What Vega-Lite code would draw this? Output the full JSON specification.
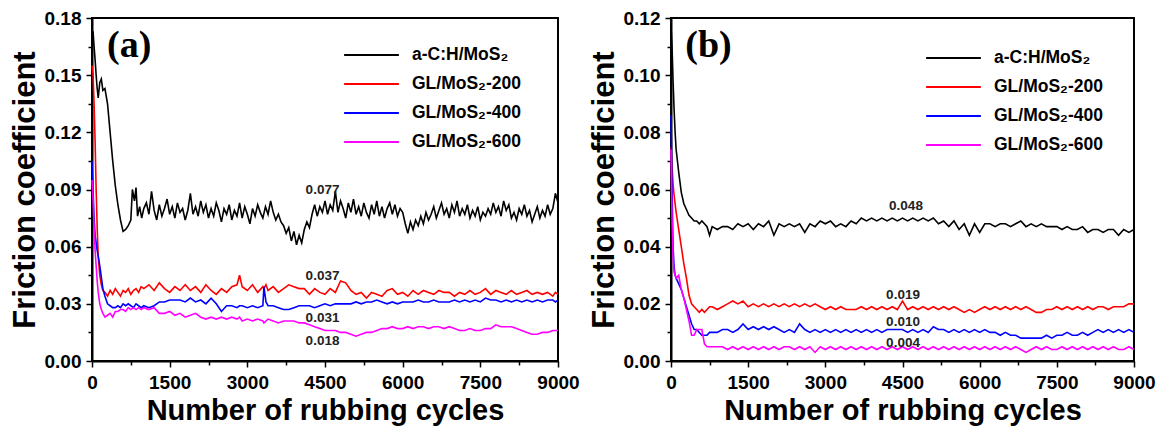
{
  "$schema": "https://vega.github.io/schema/vega-lite/v6.json",
  "padding": {"left": 8, "top": 8, "right": 8, "bottom": 4},
  "spacing": 6,
  "background": "white",
  "config": {
    "view": {"stroke": "black", "strokeWidth": 2},
    "axis": {
      "labelFont": "Liberation Sans", "labelFontWeight": "bold", "labelFontSize": 19, "labelColor": "black",
      "titleFont": "Liberation Sans", "titleFontWeight": "bold", "titleColor": "black",
      "grid": false, "domainColor": "black", "domainWidth": 2, "tickColor": "black", "tickWidth": 1.5,
      "labelOverlap": false, "labelFlush": false
    },
    "axisX": {"titleFontSize": 29, "labelPadding": 6, "titlePadding": 4},
    "axisY": {"titleFontSize": 31, "labelPadding": 5, "titlePadding": 3},
    "legend": {
      "symbolType": "stroke", "symbolSize": 3000, "symbolStrokeWidth": 2, "clipHeight": 16,
      "labelFont": "Liberation Sans", "labelFontWeight": "bold", "labelFontSize": 17.5, "labelColor": "black",
      "labelOffset": 12, "rowPadding": 11, "padding": 0, "title": null
    }
  },
  "datasets": {
    "a1": [
      {"x":0,"y":0.168},{"x":20,"y":0.173},{"x":40,"y":0.165},{"x":60,"y":0.158},{"x":80,"y":0.150},
      {"x":100,"y":0.143},{"x":120,"y":0.138},{"x":150,"y":0.146},{"x":180,"y":0.148},{"x":210,"y":0.142},
      {"x":250,"y":0.143},{"x":300,"y":0.135},{"x":350,"y":0.120},{"x":400,"y":0.105},{"x":450,"y":0.092},
      {"x":500,"y":0.082},{"x":550,"y":0.074},{"x":600,"y":0.068},{"x":650,"y":0.069},{"x":700,"y":0.071},
      {"x":750,"y":0.074},{"x":780,"y":0.090},{"x":820,"y":0.084},{"x":850,"y":0.091},{"x":880,"y":0.076},
      {"x":920,"y":0.081},{"x":960,"y":0.075},{"x":1000,"y":0.080},{"x":1050,"y":0.083},{"x":1100,"y":0.077},
      {"x":1150,"y":0.089},{"x":1200,"y":0.079},{"x":1250,"y":0.074},{"x":1300,"y":0.082},{"x":1350,"y":0.076},
      {"x":1400,"y":0.080},{"x":1450,"y":0.085},{"x":1500,"y":0.077},{"x":1550,"y":0.081},{"x":1600,"y":0.075},
      {"x":1650,"y":0.083},{"x":1700,"y":0.078},{"x":1750,"y":0.080},{"x":1800,"y":0.074},{"x":1850,"y":0.079},
      {"x":1900,"y":0.088},{"x":1950,"y":0.077},{"x":2000,"y":0.081},{"x":2050,"y":0.076},{"x":2100,"y":0.084},
      {"x":2150,"y":0.078},{"x":2200,"y":0.082},{"x":2250,"y":0.075},{"x":2300,"y":0.080},{"x":2350,"y":0.076},
      {"x":2400,"y":0.083},{"x":2450,"y":0.079},{"x":2500,"y":0.073},{"x":2550,"y":0.080},{"x":2600,"y":0.077},
      {"x":2650,"y":0.082},{"x":2700,"y":0.074},{"x":2750,"y":0.079},{"x":2800,"y":0.076},{"x":2850,"y":0.083},
      {"x":2900,"y":0.075},{"x":2950,"y":0.081},{"x":3000,"y":0.077},{"x":3050,"y":0.072},{"x":3100,"y":0.080},
      {"x":3150,"y":0.076},{"x":3200,"y":0.082},{"x":3250,"y":0.078},{"x":3300,"y":0.075},{"x":3350,"y":0.081},
      {"x":3400,"y":0.077},{"x":3450,"y":0.084},{"x":3500,"y":0.078},{"x":3550,"y":0.074},{"x":3600,"y":0.077},
      {"x":3650,"y":0.073},{"x":3700,"y":0.071},{"x":3750,"y":0.067},{"x":3800,"y":0.070},{"x":3850,"y":0.063},
      {"x":3900,"y":0.068},{"x":3950,"y":0.061},{"x":4000,"y":0.066},{"x":4050,"y":0.062},{"x":4100,"y":0.069},
      {"x":4150,"y":0.073},{"x":4200,"y":0.070},{"x":4250,"y":0.077},{"x":4300,"y":0.082},{"x":4350,"y":0.076},
      {"x":4400,"y":0.081},{"x":4450,"y":0.078},{"x":4500,"y":0.084},{"x":4550,"y":0.077},{"x":4600,"y":0.082},
      {"x":4650,"y":0.079},{"x":4700,"y":0.089},{"x":4750,"y":0.078},{"x":4800,"y":0.084},{"x":4850,"y":0.080},
      {"x":4900,"y":0.075},{"x":4950,"y":0.083},{"x":5000,"y":0.078},{"x":5050,"y":0.085},{"x":5100,"y":0.077},
      {"x":5150,"y":0.081},{"x":5200,"y":0.076},{"x":5250,"y":0.083},{"x":5300,"y":0.078},{"x":5350,"y":0.075},
      {"x":5400,"y":0.082},{"x":5450,"y":0.077},{"x":5500,"y":0.084},{"x":5550,"y":0.076},{"x":5600,"y":0.081},
      {"x":5650,"y":0.075},{"x":5700,"y":0.080},{"x":5750,"y":0.083},{"x":5800,"y":0.077},{"x":5850,"y":0.082},
      {"x":5900,"y":0.076},{"x":5950,"y":0.080},{"x":6000,"y":0.078},{"x":6050,"y":0.072},{"x":6100,"y":0.067},
      {"x":6150,"y":0.073},{"x":6200,"y":0.069},{"x":6250,"y":0.074},{"x":6300,"y":0.071},{"x":6350,"y":0.076},
      {"x":6400,"y":0.072},{"x":6450,"y":0.078},{"x":6500,"y":0.074},{"x":6550,"y":0.077},{"x":6600,"y":0.081},
      {"x":6650,"y":0.075},{"x":6700,"y":0.079},{"x":6750,"y":0.083},{"x":6800,"y":0.077},{"x":6850,"y":0.080},
      {"x":6900,"y":0.075},{"x":6950,"y":0.082},{"x":7000,"y":0.078},{"x":7050,"y":0.084},{"x":7100,"y":0.076},
      {"x":7150,"y":0.080},{"x":7200,"y":0.077},{"x":7250,"y":0.082},{"x":7300,"y":0.075},{"x":7350,"y":0.079},
      {"x":7400,"y":0.076},{"x":7450,"y":0.081},{"x":7500,"y":0.074},{"x":7550,"y":0.078},{"x":7600,"y":0.076},
      {"x":7650,"y":0.080},{"x":7700,"y":0.077},{"x":7750,"y":0.083},{"x":7800,"y":0.078},{"x":7850,"y":0.081},
      {"x":7900,"y":0.076},{"x":7950,"y":0.084},{"x":8000,"y":0.079},{"x":8050,"y":0.082},{"x":8100,"y":0.075},
      {"x":8150,"y":0.078},{"x":8200,"y":0.074},{"x":8250,"y":0.080},{"x":8300,"y":0.077},{"x":8350,"y":0.082},
      {"x":8400,"y":0.076},{"x":8450,"y":0.079},{"x":8500,"y":0.073},{"x":8550,"y":0.077},{"x":8600,"y":0.081},
      {"x":8650,"y":0.075},{"x":8700,"y":0.079},{"x":8750,"y":0.076},{"x":8800,"y":0.082},{"x":8850,"y":0.077},
      {"x":8900,"y":0.080},{"x":8950,"y":0.088},{"x":9000,"y":0.083}
    ],
    "a": [
      {"x":0,"s2":0.155,"s3":0.105,"s4":0.095},
      {"x":20,"s2":0.150,"s3":0.090,"s4":0.085},
      {"x":40,"s2":0.135,"s3":0.075,"s4":0.070},
      {"x":60,"s2":0.115,"s3":0.066,"s4":0.058},
      {"x":80,"s2":0.090,"s3":0.062,"s4":0.050},
      {"x":100,"s2":0.070,"s3":0.058,"s4":0.042},
      {"x":120,"s2":0.055,"s3":0.055,"s4":0.036},
      {"x":150,"s2":0.045,"s3":0.050,"s4":0.030},
      {"x":180,"s2":0.040,"s3":0.044,"s4":0.027},
      {"x":210,"s2":0.037,"s3":0.038,"s4":0.025},
      {"x":250,"s2":0.036,"s3":0.034,"s4":0.023},
      {"x":300,"s2":0.034,"s3":0.030,"s4":0.024},
      {"x":350,"s2":0.037,"s3":0.029,"s4":0.025},
      {"x":400,"s2":0.035,"s3":0.028,"s4":0.023},
      {"x":450,"s2":0.038,"s3":0.028,"s4":0.026},
      {"x":500,"s2":0.036,"s3":0.029,"s4":0.026},
      {"x":550,"s2":0.034,"s3":0.028,"s4":0.027},
      {"x":600,"s2":0.037,"s3":0.030,"s4":0.027},
      {"x":650,"s2":0.036,"s3":0.029,"s4":0.026},
      {"x":700,"s2":0.038,"s3":0.030,"s4":0.028},
      {"x":750,"s2":0.035,"s3":0.029,"s4":0.027},
      {"x":800,"s2":0.037,"s3":0.028,"s4":0.028},
      {"x":850,"s2":0.038,"s3":0.030,"s4":0.027},
      {"x":900,"s2":0.036,"s3":0.029,"s4":0.028},
      {"x":950,"s2":0.039,"s3":0.028,"s4":0.027},
      {"x":1000,"s2":0.038,"s3":0.029,"s4":0.028},
      {"x":1100,"s2":0.040,"s3":0.028,"s4":0.027},
      {"x":1200,"s2":0.037,"s3":0.029,"s4":0.028},
      {"x":1300,"s2":0.041,"s3":0.031,"s4":0.025},
      {"x":1400,"s2":0.038,"s3":0.031,"s4":0.025},
      {"x":1500,"s2":0.036,"s3":0.032,"s4":0.026},
      {"x":1600,"s2":0.039,"s3":0.032,"s4":0.024},
      {"x":1700,"s2":0.037,"s3":0.032,"s4":0.025},
      {"x":1800,"s2":0.040,"s3":0.031,"s4":0.023},
      {"x":1900,"s2":0.037,"s3":0.033,"s4":0.024},
      {"x":2000,"s2":0.039,"s3":0.031,"s4":0.025},
      {"x":2100,"s2":0.036,"s3":0.032,"s4":0.023},
      {"x":2200,"s2":0.040,"s3":0.030,"s4":0.022},
      {"x":2300,"s2":0.037,"s3":0.033,"s4":0.023},
      {"x":2400,"s2":0.035,"s3":0.030,"s4":0.022},
      {"x":2500,"s2":0.038,"s3":0.026,"s4":0.023},
      {"x":2600,"s2":0.036,"s3":0.029,"s4":0.022},
      {"x":2700,"s2":0.039,"s3":0.029,"s4":0.023},
      {"x":2800,"s2":0.040,"s3":0.028,"s4":0.022},
      {"x":2850,"s2":0.045,"s3":0.029,"s4":0.023},
      {"x":2900,"s2":0.039,"s3":0.029,"s4":0.021},
      {"x":3000,"s2":0.037,"s3":0.028,"s4":0.022},
      {"x":3100,"s2":0.040,"s3":0.029,"s4":0.021},
      {"x":3200,"s2":0.036,"s3":0.028,"s4":0.022},
      {"x":3300,"s2":0.039,"s3":0.029,"s4":0.021},
      {"x":3320,"s2":0.038,"s3":0.039,"s4":0.020},
      {"x":3360,"s2":0.040,"s3":0.031,"s4":0.021},
      {"x":3400,"s2":0.037,"s3":0.029,"s4":0.022},
      {"x":3500,"s2":0.039,"s3":0.029,"s4":0.021},
      {"x":3600,"s2":0.036,"s3":0.028,"s4":0.020},
      {"x":3700,"s2":0.038,"s3":0.027,"s4":0.021},
      {"x":3800,"s2":0.040,"s3":0.027,"s4":0.021},
      {"x":3900,"s2":0.039,"s3":0.028,"s4":0.021},
      {"x":4000,"s2":0.038,"s3":0.029,"s4":0.020},
      {"x":4100,"s2":0.038,"s3":0.029,"s4":0.020},
      {"x":4200,"s2":0.035,"s3":0.029,"s4":0.019},
      {"x":4300,"s2":0.038,"s3":0.028,"s4":0.018},
      {"x":4400,"s2":0.036,"s3":0.029,"s4":0.017},
      {"x":4500,"s2":0.035,"s3":0.030,"s4":0.016},
      {"x":4600,"s2":0.038,"s3":0.029,"s4":0.016},
      {"x":4700,"s2":0.036,"s3":0.030,"s4":0.016},
      {"x":4800,"s2":0.042,"s3":0.030,"s4":0.015},
      {"x":4900,"s2":0.041,"s3":0.030,"s4":0.015},
      {"x":5000,"s2":0.037,"s3":0.030,"s4":0.014},
      {"x":5100,"s2":0.035,"s3":0.031,"s4":0.013},
      {"x":5200,"s2":0.036,"s3":0.030,"s4":0.014},
      {"x":5300,"s2":0.033,"s3":0.031,"s4":0.015},
      {"x":5400,"s2":0.036,"s3":0.031,"s4":0.015},
      {"x":5500,"s2":0.035,"s3":0.032,"s4":0.016},
      {"x":5600,"s2":0.034,"s3":0.031,"s4":0.017},
      {"x":5700,"s2":0.037,"s3":0.030,"s4":0.017},
      {"x":5800,"s2":0.038,"s3":0.031,"s4":0.018},
      {"x":5900,"s2":0.035,"s3":0.030,"s4":0.017},
      {"x":6000,"s2":0.036,"s3":0.031,"s4":0.017},
      {"x":6100,"s2":0.034,"s3":0.031,"s4":0.018},
      {"x":6200,"s2":0.037,"s3":0.031,"s4":0.017},
      {"x":6300,"s2":0.035,"s3":0.032,"s4":0.018},
      {"x":6400,"s2":0.037,"s3":0.031,"s4":0.018},
      {"x":6500,"s2":0.036,"s3":0.031,"s4":0.017},
      {"x":6600,"s2":0.035,"s3":0.032,"s4":0.018},
      {"x":6700,"s2":0.037,"s3":0.031,"s4":0.018},
      {"x":6800,"s2":0.036,"s3":0.031,"s4":0.017},
      {"x":6900,"s2":0.036,"s3":0.031,"s4":0.018},
      {"x":7000,"s2":0.034,"s3":0.032,"s4":0.017},
      {"x":7100,"s2":0.036,"s3":0.031,"s4":0.016},
      {"x":7200,"s2":0.035,"s3":0.032,"s4":0.016},
      {"x":7300,"s2":0.037,"s3":0.031,"s4":0.017},
      {"x":7400,"s2":0.035,"s3":0.032,"s4":0.016},
      {"x":7500,"s2":0.036,"s3":0.031,"s4":0.016},
      {"x":7600,"s2":0.038,"s3":0.033,"s4":0.017},
      {"x":7700,"s2":0.035,"s3":0.032,"s4":0.017},
      {"x":7800,"s2":0.037,"s3":0.032,"s4":0.019},
      {"x":7900,"s2":0.036,"s3":0.031,"s4":0.018},
      {"x":8000,"s2":0.035,"s3":0.032,"s4":0.018},
      {"x":8100,"s2":0.037,"s3":0.031,"s4":0.018},
      {"x":8200,"s2":0.035,"s3":0.032,"s4":0.017},
      {"x":8300,"s2":0.036,"s3":0.031,"s4":0.016},
      {"x":8400,"s2":0.037,"s3":0.032,"s4":0.015},
      {"x":8500,"s2":0.035,"s3":0.031,"s4":0.014},
      {"x":8600,"s2":0.036,"s3":0.032,"s4":0.014},
      {"x":8700,"s2":0.035,"s3":0.031,"s4":0.015},
      {"x":8800,"s2":0.036,"s3":0.032,"s4":0.015},
      {"x":8900,"s2":0.034,"s3":0.032,"s4":0.016},
      {"x":8950,"s2":0.036,"s3":0.031,"s4":0.016},
      {"x":9000,"s2":0.035,"s3":0.032,"s4":0.016}
    ],
    "b": [
      {"x":0,"s1":0.117,"s2":0.075,"s3":0.086,"s4":0.074},
      {"x":20,"s1":0.110,"s2":0.068,"s3":0.060,"s4":0.050},
      {"x":40,"s1":0.098,"s2":0.062,"s3":0.040,"s4":0.036},
      {"x":60,"s1":0.088,"s2":0.058,"s3":0.033,"s4":0.031},
      {"x":80,"s1":0.080,"s2":0.055,"s3":0.030,"s4":0.030},
      {"x":100,"s1":0.074,"s2":0.052,"s3":0.029,"s4":0.029},
      {"x":150,"s1":0.066,"s2":0.046,"s3":0.027,"s4":0.030},
      {"x":200,"s1":0.059,"s2":0.040,"s3":0.025,"s4":0.025},
      {"x":250,"s1":0.055,"s2":0.034,"s3":0.022,"s4":0.022},
      {"x":300,"s1":0.053,"s2":0.029,"s3":0.019,"s4":0.018},
      {"x":350,"s1":0.051,"s2":0.023,"s3":0.016,"s4":0.014},
      {"x":400,"s1":0.050,"s2":0.020,"s3":0.013,"s4":0.009},
      {"x":450,"s1":0.049,"s2":0.019,"s3":0.011,"s4":0.009},
      {"x":500,"s1":0.049,"s2":0.018,"s3":0.011,"s4":0.011},
      {"x":550,"s1":0.048,"s2":0.017,"s3":0.010,"s4":0.011},
      {"x":600,"s1":0.049,"s2":0.018,"s3":0.009,"s4":0.011},
      {"x":650,"s1":0.048,"s2":0.017,"s3":0.009,"s4":0.006},
      {"x":700,"s1":0.047,"s2":0.018,"s3":0.009,"s4":0.005},
      {"x":750,"s1":0.044,"s2":0.019,"s3":0.010,"s4":0.005},
      {"x":800,"s1":0.047,"s2":0.019,"s3":0.010,"s4":0.005},
      {"x":900,"s1":0.046,"s2":0.018,"s3":0.010,"s4":0.005},
      {"x":1000,"s1":0.047,"s2":0.019,"s3":0.011,"s4":0.005},
      {"x":1100,"s1":0.047,"s2":0.020,"s3":0.011,"s4":0.004},
      {"x":1200,"s1":0.046,"s2":0.021,"s3":0.010,"s4":0.005},
      {"x":1300,"s1":0.048,"s2":0.020,"s3":0.011,"s4":0.004},
      {"x":1400,"s1":0.047,"s2":0.021,"s3":0.013,"s4":0.005},
      {"x":1500,"s1":0.048,"s2":0.019,"s3":0.011,"s4":0.004},
      {"x":1600,"s1":0.046,"s2":0.020,"s3":0.012,"s4":0.005},
      {"x":1700,"s1":0.048,"s2":0.019,"s3":0.011,"s4":0.004},
      {"x":1800,"s1":0.047,"s2":0.020,"s3":0.012,"s4":0.005},
      {"x":1900,"s1":0.049,"s2":0.019,"s3":0.011,"s4":0.004},
      {"x":2000,"s1":0.044,"s2":0.020,"s3":0.012,"s4":0.005},
      {"x":2100,"s1":0.048,"s2":0.019,"s3":0.011,"s4":0.004},
      {"x":2200,"s1":0.047,"s2":0.020,"s3":0.010,"s4":0.005},
      {"x":2300,"s1":0.048,"s2":0.019,"s3":0.011,"s4":0.005},
      {"x":2400,"s1":0.047,"s2":0.020,"s3":0.010,"s4":0.004},
      {"x":2500,"s1":0.048,"s2":0.019,"s3":0.013,"s4":0.005},
      {"x":2600,"s1":0.045,"s2":0.020,"s3":0.011,"s4":0.004},
      {"x":2700,"s1":0.048,"s2":0.019,"s3":0.010,"s4":0.005},
      {"x":2800,"s1":0.047,"s2":0.020,"s3":0.011,"s4":0.003},
      {"x":2900,"s1":0.049,"s2":0.019,"s3":0.010,"s4":0.005},
      {"x":3000,"s1":0.048,"s2":0.018,"s3":0.011,"s4":0.004},
      {"x":3100,"s1":0.049,"s2":0.019,"s3":0.010,"s4":0.005},
      {"x":3200,"s1":0.047,"s2":0.018,"s3":0.011,"s4":0.004},
      {"x":3300,"s1":0.048,"s2":0.019,"s3":0.010,"s4":0.005},
      {"x":3400,"s1":0.047,"s2":0.018,"s3":0.011,"s4":0.004},
      {"x":3500,"s1":0.049,"s2":0.018,"s3":0.010,"s4":0.005},
      {"x":3600,"s1":0.048,"s2":0.018,"s3":0.011,"s4":0.004},
      {"x":3700,"s1":0.050,"s2":0.019,"s3":0.010,"s4":0.005},
      {"x":3800,"s1":0.049,"s2":0.018,"s3":0.011,"s4":0.004},
      {"x":3900,"s1":0.050,"s2":0.019,"s3":0.010,"s4":0.005},
      {"x":4000,"s1":0.049,"s2":0.018,"s3":0.011,"s4":0.004},
      {"x":4100,"s1":0.050,"s2":0.019,"s3":0.010,"s4":0.005},
      {"x":4200,"s1":0.049,"s2":0.018,"s3":0.011,"s4":0.004},
      {"x":4300,"s1":0.050,"s2":0.019,"s3":0.011,"s4":0.005},
      {"x":4400,"s1":0.049,"s2":0.018,"s3":0.011,"s4":0.004},
      {"x":4500,"s1":0.050,"s2":0.021,"s3":0.011,"s4":0.005},
      {"x":4600,"s1":0.049,"s2":0.018,"s3":0.010,"s4":0.004},
      {"x":4700,"s1":0.050,"s2":0.019,"s3":0.011,"s4":0.005},
      {"x":4800,"s1":0.049,"s2":0.018,"s3":0.010,"s4":0.004},
      {"x":4900,"s1":0.050,"s2":0.019,"s3":0.011,"s4":0.005},
      {"x":5000,"s1":0.049,"s2":0.018,"s3":0.010,"s4":0.004},
      {"x":5100,"s1":0.050,"s2":0.019,"s3":0.012,"s4":0.005},
      {"x":5200,"s1":0.048,"s2":0.018,"s3":0.011,"s4":0.004},
      {"x":5300,"s1":0.049,"s2":0.019,"s3":0.011,"s4":0.005},
      {"x":5400,"s1":0.047,"s2":0.018,"s3":0.010,"s4":0.004},
      {"x":5500,"s1":0.049,"s2":0.019,"s3":0.011,"s4":0.005},
      {"x":5600,"s1":0.046,"s2":0.018,"s3":0.010,"s4":0.004},
      {"x":5700,"s1":0.048,"s2":0.017,"s3":0.011,"s4":0.005},
      {"x":5800,"s1":0.044,"s2":0.018,"s3":0.010,"s4":0.004},
      {"x":5900,"s1":0.048,"s2":0.017,"s3":0.011,"s4":0.005},
      {"x":6000,"s1":0.045,"s2":0.018,"s3":0.010,"s4":0.004},
      {"x":6100,"s1":0.048,"s2":0.019,"s3":0.011,"s4":0.005},
      {"x":6200,"s1":0.048,"s2":0.018,"s3":0.010,"s4":0.004},
      {"x":6300,"s1":0.047,"s2":0.019,"s3":0.010,"s4":0.005},
      {"x":6400,"s1":0.048,"s2":0.018,"s3":0.009,"s4":0.004},
      {"x":6500,"s1":0.048,"s2":0.019,"s3":0.010,"s4":0.005},
      {"x":6600,"s1":0.047,"s2":0.018,"s3":0.009,"s4":0.004},
      {"x":6700,"s1":0.048,"s2":0.019,"s3":0.009,"s4":0.005},
      {"x":6800,"s1":0.049,"s2":0.018,"s3":0.008,"s4":0.004},
      {"x":6900,"s1":0.047,"s2":0.019,"s3":0.008,"s4":0.003},
      {"x":7000,"s1":0.048,"s2":0.018,"s3":0.008,"s4":0.004},
      {"x":7100,"s1":0.047,"s2":0.017,"s3":0.008,"s4":0.005},
      {"x":7200,"s1":0.048,"s2":0.017,"s3":0.008,"s4":0.004},
      {"x":7300,"s1":0.047,"s2":0.018,"s3":0.009,"s4":0.005},
      {"x":7400,"s1":0.047,"s2":0.018,"s3":0.008,"s4":0.004},
      {"x":7500,"s1":0.047,"s2":0.019,"s3":0.009,"s4":0.004},
      {"x":7600,"s1":0.046,"s2":0.018,"s3":0.009,"s4":0.005},
      {"x":7700,"s1":0.047,"s2":0.019,"s3":0.010,"s4":0.004},
      {"x":7800,"s1":0.046,"s2":0.018,"s3":0.009,"s4":0.005},
      {"x":7900,"s1":0.046,"s2":0.019,"s3":0.009,"s4":0.004},
      {"x":8000,"s1":0.047,"s2":0.018,"s3":0.010,"s4":0.005},
      {"x":8100,"s1":0.045,"s2":0.019,"s3":0.009,"s4":0.004},
      {"x":8200,"s1":0.046,"s2":0.018,"s3":0.010,"s4":0.005},
      {"x":8300,"s1":0.046,"s2":0.019,"s3":0.011,"s4":0.004},
      {"x":8400,"s1":0.045,"s2":0.019,"s3":0.010,"s4":0.005},
      {"x":8500,"s1":0.046,"s2":0.018,"s3":0.011,"s4":0.004},
      {"x":8600,"s1":0.046,"s2":0.019,"s3":0.010,"s4":0.005},
      {"x":8700,"s1":0.044,"s2":0.019,"s3":0.011,"s4":0.004},
      {"x":8800,"s1":0.046,"s2":0.019,"s3":0.010,"s4":0.004},
      {"x":8900,"s1":0.045,"s2":0.020,"s3":0.011,"s4":0.005},
      {"x":9000,"s1":0.046,"s2":0.020,"s3":0.010,"s4":0.004}
    ],
    "annA": [
      {"x":4452,"y":0.0897,"t":"0.077"},
      {"x":4452,"y":0.0446,"t":"0.037"},
      {"x":4452,"y":0.0226,"t":"0.031"},
      {"x":4452,"y":0.0105,"t":"0.018"}
    ],
    "annB": [
      {"x":4568,"y":0.0542,"t":"0.048"},
      {"x":4510,"y":0.0231,"t":"0.019"},
      {"x":4510,"y":0.0136,"t":"0.010"},
      {"x":4510,"y":0.0063,"t":"0.004"}
    ],
    "labA": [{"x":720,"y":0.1655,"t":"(a)"}],
    "labB": [{"x":730,"y":0.1103,"t":"(b)"}]
  },
  "resolve": {"scale": {"color": "independent", "y": "independent"}, "legend": {"color": "independent"}},
  "hconcat": [
    {
      "width": 466, "height": 343,
      "encoding": {
        "x": {"field": "x", "type": "quantitative", "scale": {"domain": [0, 9000], "nice": false},
          "axis": {"title": "Number of rubbing cycles", "values": [0,750,1500,2250,3000,3750,4500,5250,6000,6750,7500,8250,9000],
            "labelExpr": "datum.value % 1500 === 0 ? format(datum.value, 'd') : ''",
            "tickSize": {"condition": {"test": "datum.value % 1500 === 0", "value": 6}, "value": 4}}},
        "y": {"field": "f", "type": "quantitative", "scale": {"domain": [0, 0.18], "nice": false},
          "axis": {"title": "Friction coefficient", "values": [0,0.015,0.03,0.045,0.06,0.075,0.09,0.105,0.12,0.135,0.15,0.165,0.18],
            "labelExpr": "round(datum.value*1000) % 30 === 0 ? format(datum.value, '.2f') : ''",
            "tickSize": {"condition": {"test": "round(datum.value*1000) % 30 === 0", "value": 6}, "value": 4}}}
      },
      "layer": [
        {
          "data": {"name": "a1"},
          "mark": {"type": "line", "strokeWidth": 1.6},
          "encoding": {
            "y": {"field": "y", "type": "quantitative"},
            "color": {"datum": "s1", "type": "nominal", "title": null,
              "scale": {"domain": ["s1", "s2", "s3", "s4"], "range": ["#000000", "#ff0000", "#0000ff", "#ff00ff"]},
              "legend": {"title": null, "orient": "none", "legendX": 251, "legendY": 29,
                "labelExpr": "datum.label === 's1' ? 'a-C:H/MoS₂' : datum.label === 's2' ? 'GL/MoS₂-200' : datum.label === 's3' ? 'GL/MoS₂-400' : 'GL/MoS₂-600'"}}
          }
        },
        {
          "data": {"name": "a"},
          "transform": [{"fold": ["s2", "s3", "s4"], "as": ["series", "f"]}],
          "mark": {"type": "line", "strokeWidth": 1.6},
          "encoding": {
            "color": {"field": "series", "type": "nominal", "title": null}
          }
        },
        {
          "data": {"name": "annA"},
          "mark": {"type": "text", "font": "Liberation Sans", "fontWeight": "bold", "fontSize": 13.5, "color": "#222222"},
          "encoding": {"y": {"field": "y", "type": "quantitative"}, "text": {"field": "t"}}
        },
        {
          "data": {"name": "labA"},
          "mark": {"type": "text", "font": "Liberation Serif", "fontWeight": "bold", "fontSize": 38, "color": "black"},
          "encoding": {"y": {"field": "y", "type": "quantitative"}, "text": {"field": "t"}}
        }
      ]
    },
    {
      "width": 463, "height": 343,
      "encoding": {
        "x": {"field": "x", "type": "quantitative", "scale": {"domain": [0, 9000], "nice": false},
          "axis": {"title": "Number of rubbing cycles", "values": [0,750,1500,2250,3000,3750,4500,5250,6000,6750,7500,8250,9000],
            "labelExpr": "datum.value % 1500 === 0 ? format(datum.value, 'd') : ''",
            "tickSize": {"condition": {"test": "datum.value % 1500 === 0", "value": 6}, "value": 4}}},
        "y": {"field": "f", "type": "quantitative", "scale": {"domain": [0, 0.12], "nice": false},
          "axis": {"title": "Friction coefficient", "values": [0,0.01,0.02,0.03,0.04,0.05,0.06,0.07,0.08,0.09,0.1,0.11,0.12],
            "labelExpr": "round(datum.value*1000) % 20 === 0 ? format(datum.value, '.2f') : ''",
            "tickSize": {"condition": {"test": "round(datum.value*1000) % 20 === 0", "value": 6}, "value": 4}}}
      },
      "layer": [
        {
          "data": {"name": "b"},
          "transform": [{"fold": ["s1", "s2", "s3", "s4"], "as": ["series", "f"]}],
          "mark": {"type": "line", "strokeWidth": 1.6},
          "encoding": {
            "color": {"field": "series", "type": "nominal", "title": null,
              "scale": {"domain": ["s1", "s2", "s3", "s4"], "range": ["#000000", "#ff0000", "#0000ff", "#ff00ff"]},
              "legend": {"title": null, "orient": "none", "legendX": 254, "legendY": 32,
                "labelExpr": "datum.label === 's1' ? 'a-C:H/MoS₂' : datum.label === 's2' ? 'GL/MoS₂-200' : datum.label === 's3' ? 'GL/MoS₂-400' : 'GL/MoS₂-600'"}}
          }
        },
        {
          "data": {"name": "annB"},
          "mark": {"type": "text", "font": "Liberation Sans", "fontWeight": "bold", "fontSize": 13.5, "color": "#222222"},
          "encoding": {"y": {"field": "y", "type": "quantitative"}, "text": {"field": "t"}}
        },
        {
          "data": {"name": "labB"},
          "mark": {"type": "text", "font": "Liberation Serif", "fontWeight": "bold", "fontSize": 38, "color": "black"},
          "encoding": {"y": {"field": "y", "type": "quantitative"}, "text": {"field": "t"}}
        }
      ]
    }
  ]
}
